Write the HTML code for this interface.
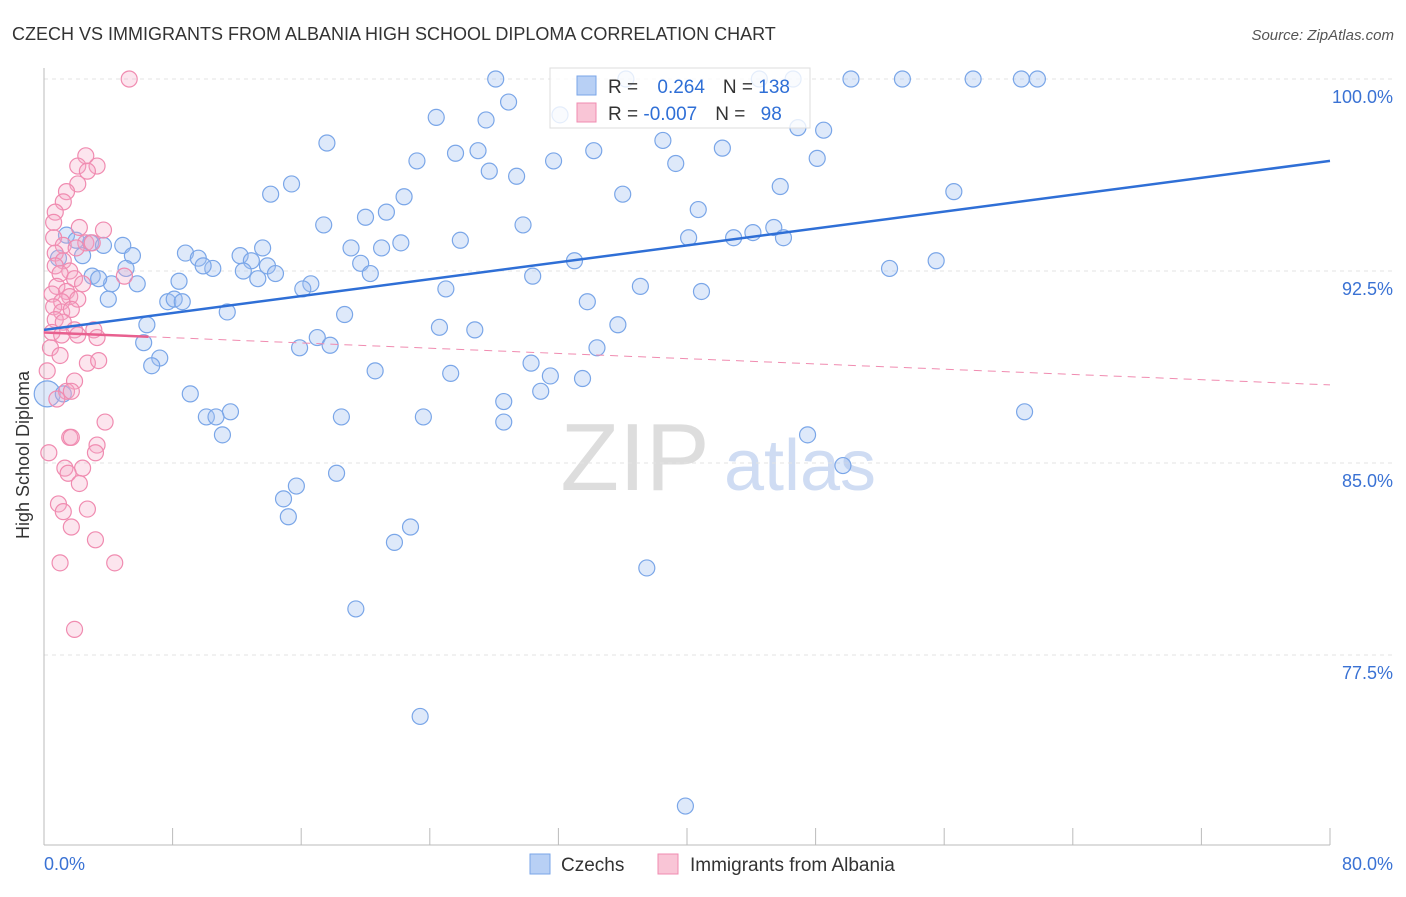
<!DOCTYPE html>
<html><head><meta charset="utf-8"><style>
body{margin:0;background:#fff;font-family:"Liberation Sans",sans-serif;}
svg text{font-family:"Liberation Sans",sans-serif;}
</style></head><body>
<svg id="chart" width="1406" height="892" xmlns="http://www.w3.org/2000/svg">
<text x="12" y="40" font-size="18" fill="#333">CZECH VS IMMIGRANTS FROM ALBANIA HIGH SCHOOL DIPLOMA CORRELATION CHART</text>
<text x="1394" y="40" font-size="15" fill="#555" text-anchor="end" font-style="italic">Source: ZipAtlas.com</text>
<text x="29" y="455" font-size="18" fill="#333" text-anchor="middle" transform="rotate(-90 29 455)">High School Diploma</text>
<g><text x="635" y="490" font-size="96" fill="#ddd" font-family="Liberation Serif" text-anchor="middle">ZIP</text><text x="800" y="490" font-size="72" fill="#cfdcf3" text-anchor="middle">atlas</text></g>
<g id="grid"></g><g id="axes"></g><g id="pts"></g><g id="lines"></g>
<g>
<rect x="550" y="68" width="260" height="60" fill="#fff" fill-opacity="0.8" stroke="#ddd"/>
<rect x="577" y="76" width="19" height="19" fill="#b8d0f5" stroke="#7aa6e8"/>
<rect x="577" y="103" width="19" height="19" fill="#f9c5d6" stroke="#f08bb0"/>
<text x="608" y="93" font-size="19" fill="#333">R = <tspan fill="#2f6fd6" dx="14">0.264</tspan><tspan dx="18">N = </tspan><tspan fill="#2f6fd6">138</tspan></text>
<text x="608" y="120" font-size="19" fill="#333">R = <tspan fill="#2f6fd6">-0.007</tspan><tspan dx="18">N = </tspan><tspan fill="#2f6fd6" dx="10">98</tspan></text>
</g>
<g>
<rect x="530" y="854" width="20" height="20" fill="#b8d0f5" stroke="#7aa6e8"/>
<text x="561" y="871" font-size="19" fill="#333">Czechs</text>
<rect x="658" y="854" width="20" height="20" fill="#f9c5d6" stroke="#f08bb0"/>
<text x="690" y="871" font-size="19" fill="#333">Immigrants from Albania</text>
</g>
</svg>
<script>
const yTicks=[100,92.5,85,77.5];
const yTickLabels=["100.0%","92.5%","85.0%","77.5%"];
const xTickLabels=["0.0%","80.0%"];
const blueX=[28.1,36.2,44.5,46.6,50.2,53.4,57.8,60.8,61.8,28.9,24.4,27.5,32.1,46.9,48.5,17.6,27.0,25.6,23.2,34.2,38.5,31.7,39.3,42.2,48.1,27.7,29.4,15.4,14.1,36.0,45.8,56.6,22.4,21.3,20.0,40.7,17.4,29.8,45.4,44.1,42.9,40.1,46.0,22.2,25.9,19.1,21.0,13.6,12.2,12.9,8.8,9.6,10.5,9.9,13.9,12.4,14.4,13.3,19.7,20.3,30.4,33.0,52.6,55.5,1.4,2.0,2.9,3.7,4.9,5.5,5.1,2.4,0.9,3.0,4.2,3.4,5.8,8.4,16.6,16.1,25.0,37.1,40.9,7.7,8.1,8.6,4.0,33.8,11.4,18.7,6.4,24.6,26.8,35.7,6.2,17.0,17.8,15.9,34.4,7.2,6.7,30.3,20.6,25.3,31.5,33.5,30.9,9.1,28.6,11.6,10.1,10.7,18.5,23.6,28.6,11.1,61.0,47.5,18.2,49.7,15.7,14.9,15.2,22.8,21.8,37.5,19.4,23.4,39.9,0.2,1.2];
const blueY=[100,100,100,100,100,100,100,100,100,99.1,98.5,98.4,98.6,98.1,98.0,97.5,97.2,97.1,96.8,97.2,97.6,96.8,96.7,97.3,96.9,96.4,96.2,95.9,95.5,95.5,95.8,95.6,95.4,94.8,94.6,94.9,94.3,94.3,94.2,94.0,93.8,93.8,93.8,93.6,93.7,93.4,93.4,93.4,93.1,92.9,93.2,93.0,92.6,92.7,92.7,92.5,92.4,92.2,92.8,92.4,92.3,92.9,92.6,92.9,93.9,93.7,93.6,93.5,93.5,93.1,92.6,93.1,93.0,92.3,92.0,92.2,92.0,92.1,92.0,91.8,91.8,91.9,91.7,91.3,91.4,91.3,91.4,91.3,90.9,90.8,90.4,90.3,90.2,90.4,89.7,89.9,89.6,89.5,89.5,89.1,88.8,88.9,88.6,88.5,88.4,88.3,87.8,87.7,87.4,87.0,86.8,86.8,86.8,86.8,86.6,86.1,87.0,86.1,84.6,84.9,84.1,83.6,82.9,82.5,81.9,80.9,79.3,75.1,71.6,87.7,87.7];
const pinkX=[5.3,2.6,3.3,2.1,2.7,2.1,1.4,1.2,0.7,2.2,3.7,0.6,0.6,1.2,2.6,3.0,2.0,0.7,1.2,0.7,1.6,1.0,1.9,2.4,0.8,1.4,0.5,1.6,1.1,2.1,0.6,1.1,1.7,0.7,1.2,1.9,3.1,0.5,1.1,2.1,3.3,0.4,1.0,2.7,3.4,0.2,1.9,1.4,1.7,0.8,3.8,1.6,1.7,3.3,3.2,0.3,1.3,2.4,1.5,2.2,0.9,2.7,1.2,1.7,3.2,1.0,4.4,1.9,5.0];
const pinkY=[100,97.0,96.6,96.6,96.4,95.9,95.6,95.2,94.8,94.2,94.1,94.4,93.8,93.5,93.6,93.6,93.4,93.2,92.9,92.7,92.5,92.4,92.2,92.0,91.9,91.7,91.6,91.5,91.3,91.4,91.1,90.9,91.0,90.6,90.5,90.2,90.2,90.1,90.0,90.0,89.9,89.5,89.2,88.9,89.0,88.6,88.2,87.8,87.8,87.5,86.6,86.0,86.0,85.7,85.4,85.4,84.8,84.8,84.6,84.2,83.4,83.2,83.1,82.5,82.0,81.1,81.1,78.5,92.3];
const trendBlue=[90.2,96.8];
const trendPink=[90.1,88.05];
const NS="http://www.w3.org/2000/svg";
const X0=44,X1=1330,sx=v=>X0+(v/80)*(X1-X0);
const sy=v=>79+(100-v)*25.6;
function mk(t,a,p){const e=document.createElementNS(NS,t);for(const k in a)e.setAttribute(k,a[k]);p.appendChild(e);return e;}
const grid=document.getElementById('grid'),axes=document.getElementById('axes'),pts=document.getElementById('pts'),lines=document.getElementById('lines');
yTicks.forEach((v,i)=>{
 const l=mk('line',{x1:X0,x2:1392,y1:sy(v),y2:sy(v),stroke:'#e3e3e3','stroke-dasharray':'4,4'},grid);
 
 
 const t=mk('text',{x:1393,y:sy(v)+24,'font-size':18,fill:'#3a72d4','text-anchor':'end'},axes);
 t.textContent=yTickLabels[i];
 
 
});
const ax=mk('line',{x1:X0,x2:X0,y1:68,y2:845,stroke:'#bbb'},axes);


const bx=mk('line',{x1:X0,x2:X1,y1:845,y2:845,stroke:'#bbb'},axes);


for(let i=0;i<=10;i++){const tk=mk('line',{x1:sx(i*8),x2:sx(i*8),y1:828,y2:845,stroke:'#bbb'},axes);
 
 }
[[0,'start',44],[80,'end',1393]].forEach((d,i)=>{const t=mk('text',{x:d[2],y:870,'font-size':18,fill:'#3a72d4','text-anchor':d[1]},axes);t.textContent=xTickLabels[i];
 
 });
blueX.forEach((x,i)=>{const r=(i>=blueX.length-2&&x<0.5)?13:8;const c=mk('circle',{cx:sx(x),cy:sy(blueY[i]),r:r,fill:'rgba(160,192,242,0.35)',stroke:'#7aa6e8','stroke-width':1.2},pts);
 
 });
pinkX.forEach((x,i)=>{const c=mk('circle',{cx:sx(x),cy:sy(pinkY[i]),r:8,fill:'rgba(245,170,198,0.3)',stroke:'#f08bb0','stroke-width':1.2},pts);
 
 });
const bl=mk('line',{x1:sx(0),y1:sy(trendBlue[0]),x2:sx(80),y2:sy(trendBlue[1]),stroke:'#2f6fd6','stroke-width':2.5},lines);


const pAt=x=>trendPink[0]+(trendPink[1]-trendPink[0])*x/80;
const ps=mk('line',{x1:sx(0),y1:sy(pAt(0)),x2:sx(6.5),y2:sy(pAt(6.5)),stroke:'#e8608f','stroke-width':2.5},lines);


const pd=mk('line',{x1:sx(6.5),y1:sy(pAt(6.5)),x2:sx(80),y2:sy(pAt(80)),stroke:'#f08bb0','stroke-width':1,'stroke-dasharray':'8,6'},lines);


</script>
</body></html>
